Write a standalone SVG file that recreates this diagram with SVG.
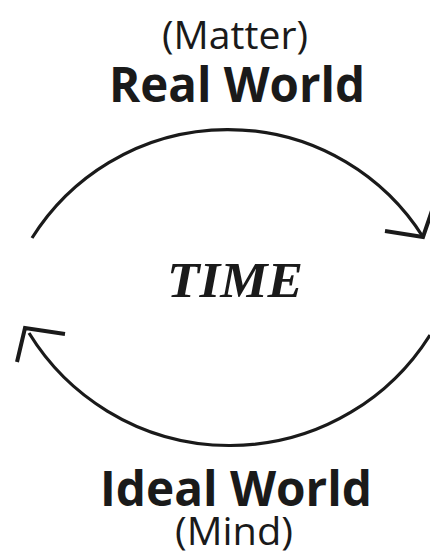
<svg xmlns="http://www.w3.org/2000/svg" width="430" height="555" viewBox="0 0 430 555">
<style>
.sub{font-family:"Open Sans","Noto Sans",sans-serif;font-size:39px;fill:#1a1a1a;text-anchor:middle}
.main{font-family:"Open Sans","Noto Sans",sans-serif;font-weight:bold;font-size:48px;fill:#1a1a1a;text-anchor:middle}
.time{font-family:"Liberation Serif",serif;font-weight:bold;font-style:italic;font-size:50px;fill:#1a1a1a;text-anchor:middle}
.arc{fill:none;stroke:#1a1a1a;stroke-width:3.2;stroke-linecap:butt}
.head{fill:none;stroke:#1a1a1a;stroke-width:4;stroke-linecap:butt;stroke-linejoin:miter}
</style>
<rect width="430" height="555" fill="#ffffff"/>
<g id="real-world">
<text class="sub" x="235" y="49" textLength="146" lengthAdjust="spacingAndGlyphs">(Matter)</text>
<text class="main" x="237" y="102" textLength="256" lengthAdjust="spacingAndGlyphs">Real World</text>
</g>
<g id="time">
<text class="time" x="235" y="297" textLength="136" lengthAdjust="spacingAndGlyphs">TIME</text>
</g>
<g id="ideal-world">
<text class="main" x="236" y="506" textLength="272" lengthAdjust="spacingAndGlyphs">Ideal World</text>
<text class="sub" x="234" y="545" textLength="118" lengthAdjust="spacingAndGlyphs">(Mind)</text>
</g>
<g id="connectors">
<path class="arc" d="M32,238 A231,231 0 0 1 423,237"/>
<polyline class="head" points="385,231 423,237 436,199"/>
<path class="arc" d="M29,333 A236,236 0 0 0 430,335"/>
<polyline class="head" points="65,334 25,328 17,362"/>
</g>
</svg>
